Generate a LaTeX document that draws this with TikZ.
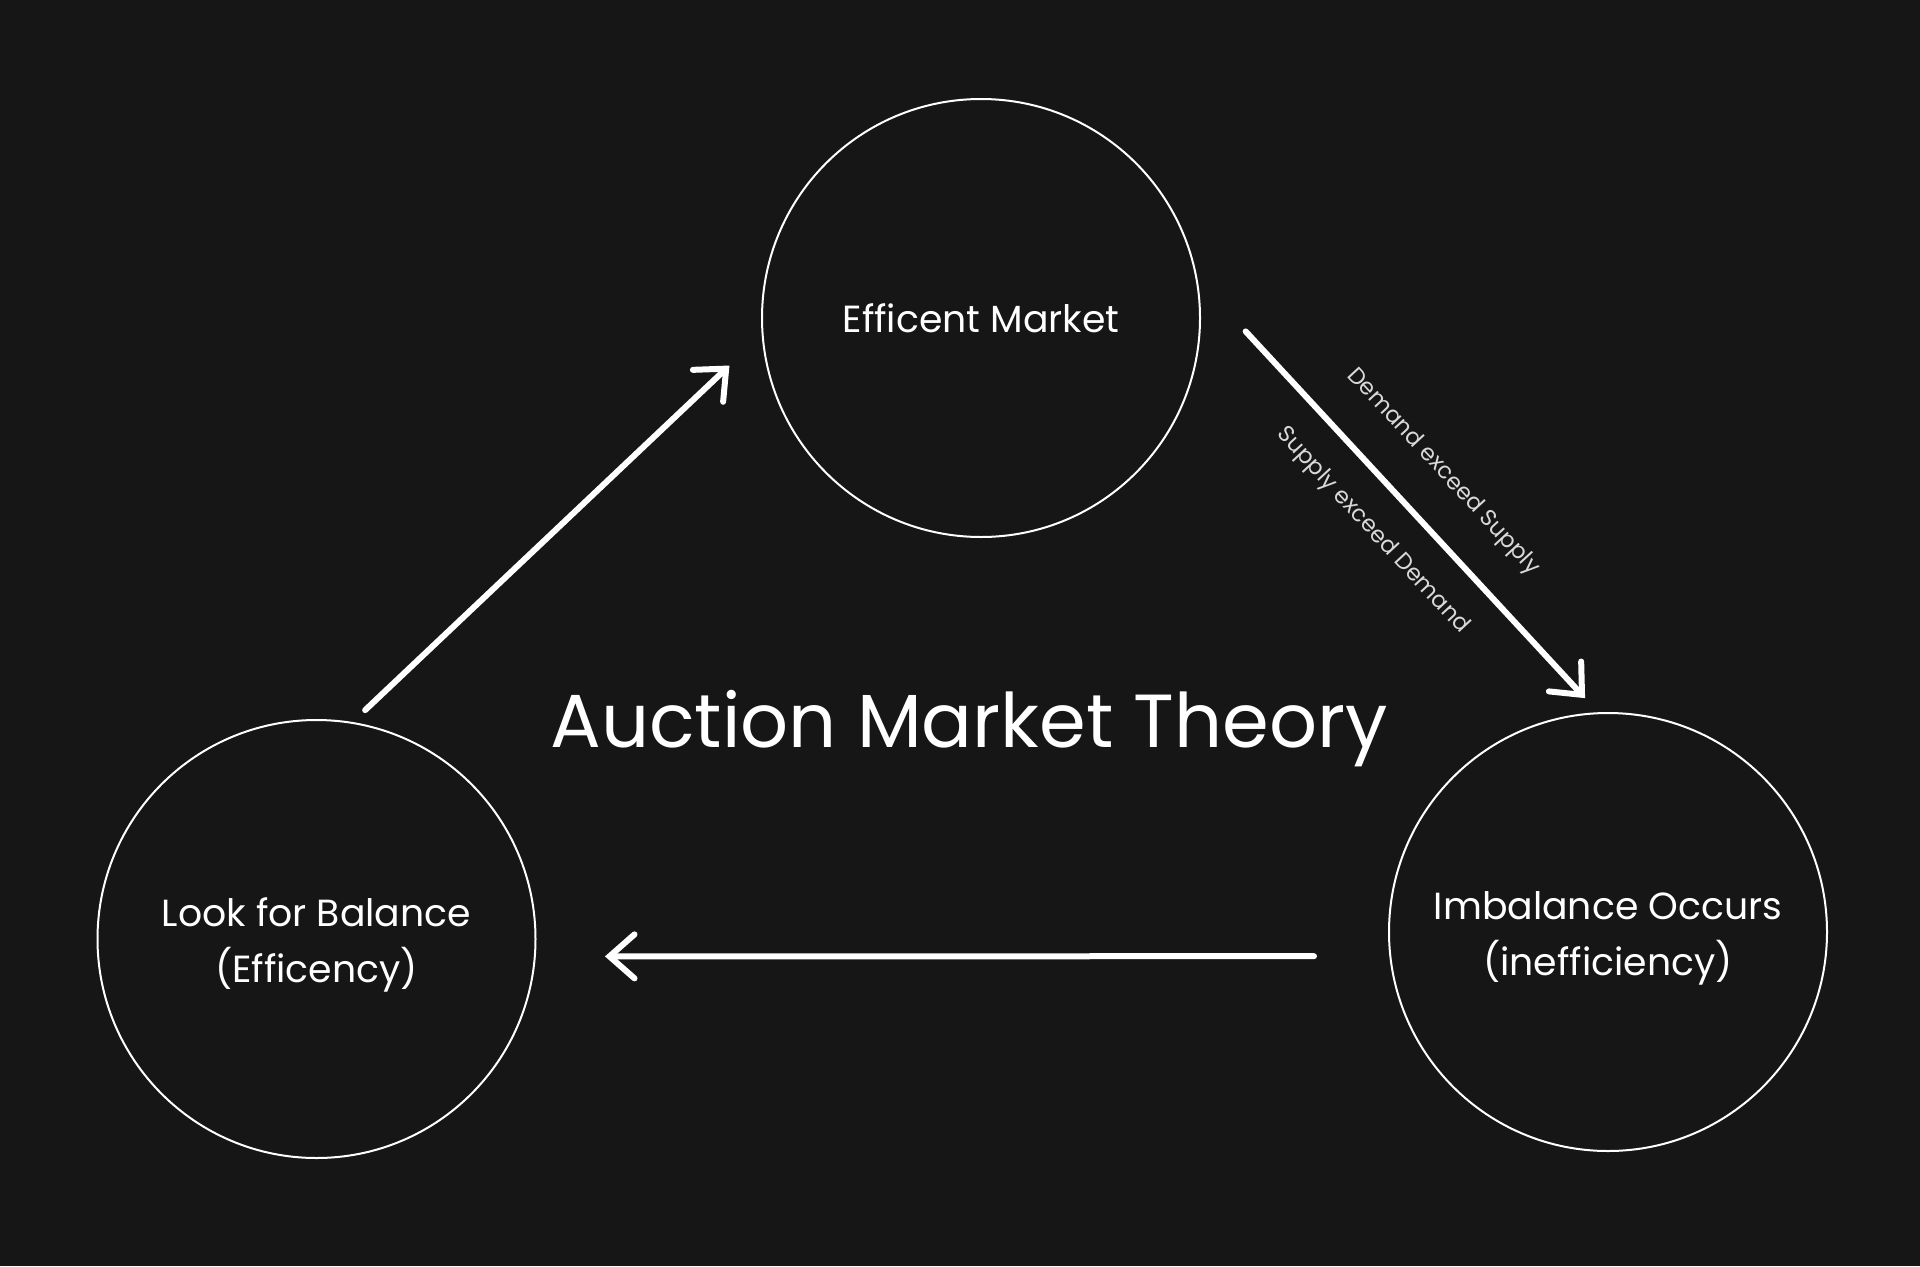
\documentclass[tikz,border=0pt]{standalone}
\usepackage{fontspec}
\setmainfont{Poppins}
\usepackage{xcolor}
\usetikzlibrary{arrows.meta,calc}
\definecolor{bgdark}{HTML}{161616}
\tikzset{
	stage/.style={
			circle, draw=white, line width=0.2mm, minimum size=4.38cm,
			text=white, align=center, font=\fontsize{10.75}{16}\selectfont
		},
	flow/.style={
			white, line width=0.6mm, line cap=round,
			-{Straight Barb[length=2.5mm, width=4.4mm, line cap=round]}
		},
	cause/.style={
			sloped, inner sep=0pt, text=white!85!black,
			font=\fontsize{6.5}{8}\selectfont
		}
}

\begin{document}
\begin{tikzpicture}
	% Background
	\fill[bgdark] (0,0) rectangle (19.2,12.66);
	\useasboundingbox (0,0) rectangle (19.2,12.66);

	% The three stages of the cycle
	\node[stage] (eff) at (9.81, 9.48) {Efficent Market};
	\node[stage] (imb) at (16.08, 3.34) {\rule{0pt}{4mm}Imbalance Occurs\\(inefficiency)};
	\node[stage] (look) at (3.165, 3.27) {\rule{0pt}{4mm}Look for Balance\\(Efficency)};

	% Title in the middle
	\node[white, anchor=base, font=\fontsize{21.4}{26}\selectfont] (title) at (9.69, 5.19) {Auction Market Theory};

	% Arrows between the stages
	\draw[flow] ($(look)+(78:2.34)$) -- ($(eff)+(190.7:2.56)$);
	\draw[flow] ($(eff)+(-2.9:2.65)$) -- ($(imb)+(95.6:2.35)$)
		node[cause, pos=0.475, above=3.5mm] (dem) {Demand exceed Supply}
		node[cause, pos=0.465, below=2.8mm] (sup) {Supply exceed Demand};
	\draw[flow] ($(imb)+(184.7:2.95)$) -- ($(look)+(-3.45:2.89)$);
\end{tikzpicture}
\end{document}
